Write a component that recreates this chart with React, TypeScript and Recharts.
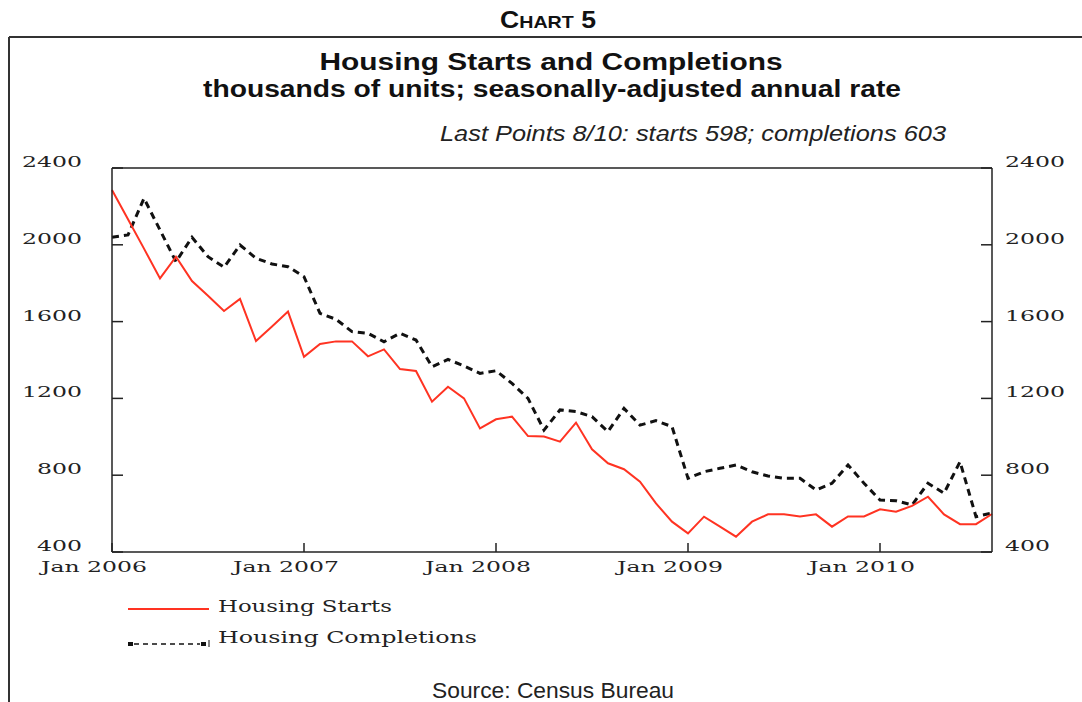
import { LineChart, Line, XAxis, YAxis, Legend, ReferenceLine } from 'recharts';

// monthly, Jan 2006 .. Aug 2010 (thousands, SAAR)
const starts = [
  2285, 2133, 1980, 1825, 1938, 1811, 1735, 1655, 1718, 1499, 1574, 1652,
  1417, 1483, 1497, 1497, 1419, 1455, 1353, 1343, 1183, 1261, 1200, 1044,
  1091, 1105, 1004, 1001, 975, 1074, 935, 862, 831, 766, 653, 558,
  497, 584, 532, 480, 558, 596, 596, 585, 596, 532, 585, 585,
  622, 610, 640, 688, 596, 545, 545, 598,
];
const completions = [
  2039, 2051, 2242, 2077, 1912, 2039, 1938, 1883, 1999, 1930, 1900, 1886,
  1834, 1643, 1612, 1548, 1539, 1495, 1539, 1504, 1365, 1403, 1369, 1330,
  1344, 1278, 1200, 1035, 1140, 1131, 1105, 1027, 1148, 1061, 1084, 1053,
  784, 818, 836, 853, 818, 796, 784, 784, 723, 758, 853, 758,
  671, 667, 645, 758, 706, 870, 584, 603,
];
const yTicks = [400, 800, 1200, 1600, 2000, 2400];
const yearTicks = [0, 12, 24, 36, 48];
const yearLabels = ['Jan 2006', 'Jan 2007', 'Jan 2008', 'Jan 2009', 'Jan 2010'];

const data = starts.map((s, i) => ({ i, starts: s, completions: completions[i] }));

const RED = '#ff3322';
const AXIS = '#222';
const SERIF = '"DejaVu Serif", "Liberation Serif", serif';
const SANS = '"Liberation Sans Narrow", "Liberation Sans", Arial, sans-serif';

const LeftTick = ({ x, y, payload }: any) => (
  <text x={x} y={y - 6} textAnchor="end" dominantBaseline="central" fontFamily={SERIF} fontSize={15} fill="#222"
    textLength={String(payload.value).length * 15} lengthAdjust="spacingAndGlyphs">
    {payload.value}
  </text>
);

const RightTick = ({ x, y, payload }: any) => (
  <text x={x} y={y - 6} textAnchor="start" dominantBaseline="central" fontFamily={SERIF} fontSize={15} fill="#222"
    textLength={String(payload.value).length * 15} lengthAdjust="spacingAndGlyphs">
    {payload.value}
  </text>
);

const YearTick = ({ x, y, payload }: any) => (
  <text x={x - 18} y={y + 20} textAnchor="middle" fontFamily={SERIF} fontSize={15} fill="#222"
    textLength={106} lengthAdjust="spacingAndGlyphs">
    {yearLabels[yearTicks.indexOf(payload.value)]}
  </text>
);

const renderLegend = () => (
  <svg width={400} height={60}>
    <line x1={8} x2={89} y1={17} y2={17} stroke={RED} strokeWidth={2} />
    <text x={98} y={14} dominantBaseline="central" fontFamily={SERIF} fontSize={16} fill="#222"
      textLength={174} lengthAdjust="spacingAndGlyphs">Housing Starts</text>
    <line x1={14} x2={80} y1={52} y2={52} stroke="#111" strokeWidth={1.5} strokeDasharray="5 4" />
    <rect x={8} y={50} width={5} height={4} fill="#111" />
    <rect x={81} y={50} width={5} height={4} fill="#111" />
    <line x1={89} x2={89} y1={48} y2={55} stroke="#111" strokeWidth={1} />
    <text x={98} y={45} dominantBaseline="central" fontFamily={SERIF} fontSize={16} fill="#222"
      textLength={259} lengthAdjust="spacingAndGlyphs">Housing Completions</text>
  </svg>
);

export default function App() {
  return (
    <div style={{ position: 'absolute', top: 0, left: 0, width: 1082, height: 702, background: '#fff', overflow: 'hidden' }}>
      <LineChart width={1082} height={702} data={data} margin={{ top: 168, right: 30, bottom: 120, left: 52 }}>
        <XAxis dataKey="i" type="number" domain={[0, 55]} ticks={yearTicks} height={30}
          tickSize={-9} tickMargin={9} tick={<YearTick />} interval={0}
          axisLine={{ stroke: AXIS, strokeWidth: 1.5 }} tickLine={{ stroke: AXIS, strokeWidth: 1.5 }} />
        <YAxis yAxisId="left" orientation="left" domain={[400, 2400]} ticks={yTicks} width={60}
          tickSize={-11} tickMargin={41} tick={<LeftTick />} interval={0}
          axisLine={{ stroke: AXIS, strokeWidth: 1.5 }} tickLine={{ stroke: AXIS, strokeWidth: 1.5 }} />
        <YAxis yAxisId="right" orientation="right" domain={[400, 2400]} ticks={yTicks} width={60}
          tickSize={-11} tickMargin={24} tick={<RightTick />} interval={0}
          axisLine={{ stroke: AXIS, strokeWidth: 1.5 }} tickLine={{ stroke: AXIS, strokeWidth: 1.5 }} />
        <ReferenceLine yAxisId="left" y={2400} stroke={AXIS} strokeWidth={1.5} />
        <Legend layout="vertical" align="center" verticalAlign="middle" content={renderLegend}
          wrapperStyle={{ left: 120, top: 592, width: 400, height: 60 }} />
        <Line yAxisId="right" dataKey="completions" name="Housing Completions" stroke="#111" strokeWidth={3}
          strokeDasharray="7 5" dot={false} isAnimationActive={false} />
        <Line yAxisId="left" dataKey="starts" name="Housing Starts" stroke={RED} strokeWidth={2}
          dot={false} isAnimationActive={false} />
      </LineChart>
      <svg width={1082} height={702} style={{ position: 'absolute', top: 0, left: 0, pointerEvents: 'none' }}>
        <line x1={9} x2={1082} y1={37} y2={37} stroke="#333" strokeWidth={2} />
        <line x1={9} x2={9} y1={37} y2={702} stroke="#333" strokeWidth={2} />
        <text x={548} y={28} textAnchor="middle" fontFamily={SANS} fontWeight="bold" fill="#111"
          textLength={96} lengthAdjust="spacingAndGlyphs">
          <tspan fontSize={23}>C</tspan><tspan fontSize={17}>HART</tspan><tspan fontSize={23}> 5</tspan>
        </text>
        <text x={551} y={70} textAnchor="middle" fontFamily={SANS} fontWeight="bold" fontSize={23} fill="#111"
          textLength={463} lengthAdjust="spacingAndGlyphs">Housing Starts and Completions</text>
        <text x={552} y={97} textAnchor="middle" fontFamily={SANS} fontWeight="bold" fontSize={23} fill="#111"
          textLength={698} lengthAdjust="spacingAndGlyphs">thousands of units; seasonally-adjusted annual rate</text>
        <text x={440} y={141} fontFamily={SANS} fontStyle="italic" fontSize={22} fill="#222"
          textLength={506} lengthAdjust="spacingAndGlyphs">Last Points 8/10: starts 598; completions 603</text>
        <text x={553} y={698} textAnchor="middle" fontFamily={SANS} fontSize={22} fill="#222"
          textLength={242} lengthAdjust="spacingAndGlyphs">Source: Census Bureau</text>
      </svg>
    </div>
  );
}
